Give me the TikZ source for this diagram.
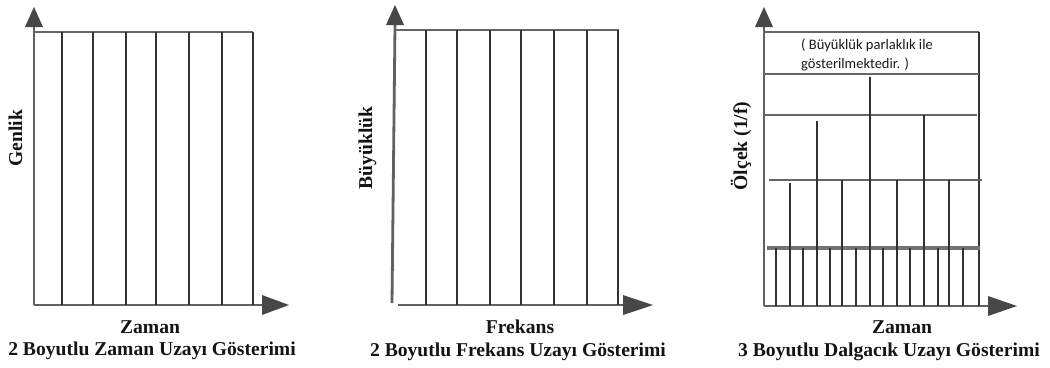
\documentclass[tikz,border=0pt]{standalone}
\usepackage{fontspec}
\setmainfont{Liberation Serif}
\newfontfamily\notefont{Carlito}
\tikzset{
 vline/.style={line width=2.2pt, draw=black!80},
 hline/.style={line width=2.2pt, draw=black!60},
 hthick/.style={line width=3.2pt, draw=black!55},
 axis/.style={line width=2.8pt, draw=black!62},
 tip/.style={fill=black!72, draw=none},
 lab/.style={font=\fontsize{19.6}{22}\selectfont\bfseries, text=black!92, inner sep=0pt, anchor=base},
 note/.style={font=\notefont\fontsize{14.5}{18.5}\selectfont, text=black!90, align=left, inner sep=0pt, anchor=west},
}
\begin{document}
\begin{tikzpicture}[x=1pt,y=-1pt]
\useasboundingbox (0,0) rectangle (1050,367);
% ---------- Panel 1 ----------
\coordinate (p1o) at (34,305);
\draw[axis] (p1o) -- (34,25);
\fill[tip] (34,7) -- (43,27) -- (25,27) -- cycle;
\draw[axis] (p1o) -- (264,305);
\fill[tip] (289,305) -- (262,295) -- (262,315) -- cycle;
\draw[hline] (34,32) -- (253,32);
\foreach \x in {62,93,126,156,189,222,253} \draw[vline] (\x,32) -- (\x,305);
\node[lab, rotate=90] (gen) at (22,138) {Genlik};
\node[lab] (z1) at (150,333) {Zaman};
\node[lab] (c1) at (152,355) {2 Boyutlu Zaman Uzayı Gösterimi};
% ---------- Panel 2 ----------
\draw[axis] (392,303) -- (395,25);
\fill[tip] (395,5) -- (404,25) -- (386,25) -- cycle;
\draw[hline] (395,30) -- (619,30);
\draw[axis] (398,305) -- (625,305);
\fill[tip] (653,305) -- (623,295) -- (623,315) -- cycle;
\foreach \x in {426,457,490,521,554,587,618} \draw[vline] (\x,30) -- (\x,305);
\node[lab, rotate=90] (buy) at (372,148) {Büyüklük};
\node[lab] (fr) at (520,333) {Frekans};
\node[lab] (c2) at (518,356) {2 Boyutlu Frekans Uzayı Gösterimi};
% ---------- Panel 3 ----------
\draw[axis] (764,306) -- (764,26);
\fill[tip] (764,7) -- (773,27) -- (755,27) -- cycle;
\draw[axis] (764,306) -- (990,306);
\fill[tip] (1017,306) -- (988,296) -- (988,316) -- cycle;
\draw[hline] (764,32) -- (979,32);
\draw[vline] (979,32) -- (979,306);
\draw[hline] (764,74) -- (979,74);
\draw[hline] (764,115) -- (977,115);
\draw[hline] (769,180) -- (982,180);
\draw[hthick] (767,248) -- (980,248);
\draw[vline] (870,77) -- (870,306);
\draw[vline] (817,121) -- (817,306);
\draw[vline] (924,115) -- (924,306);
\draw[vline] (790,183) -- (790,306);
\foreach \x in {842,897,949} \draw[vline] (\x,180) -- (\x,306);
\foreach \x in {776,803,830,856,883,910,938,963} \draw[vline] (\x,248) -- (\x,306);
\node[note] (nt) at (801,55) {( Büyüklük parlaklık ile\\gösterilmektedir. )};
\node[lab, rotate=90] (olc) at (747,146) {Ölçek (1/f)};
\node[lab] (z3) at (902,333) {Zaman};
\node[lab] (c3) at (889,356) {3 Boyutlu Dalgacık Uzayı Gösterimi};
\end{tikzpicture}
\end{document}
